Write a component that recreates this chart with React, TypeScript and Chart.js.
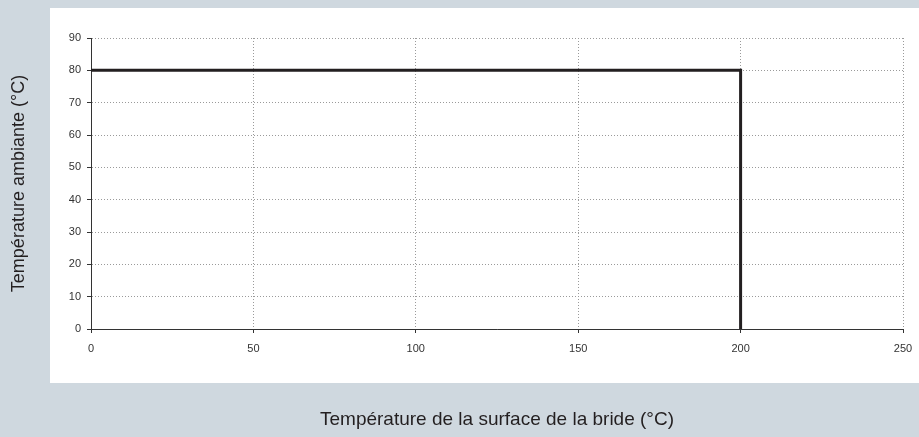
import React, { useEffect, useRef } from "react";
import { Chart, registerables } from "chart.js";

Chart.register(...registerables);

const xValues = [0, 200, 200];
const yValues = [80, 80, 0];
const xMin = 0;
const xMax = 250;
const xStep = 50;
const yMin = 0;
const yMax = 90;
const yStep = 10;
const xTitle = "Température de la surface de la bride (°C)";
const yTitle = "Température ambiante (°C)";

const FONT = "'Liberation Sans', Arial, Helvetica, sans-serif";

const panelPlugin = {
  id: "panel",
  beforeDraw(chart: any) {
    const ctx = chart.ctx;
    ctx.save();
    ctx.fillStyle = "#ffffff";
    ctx.fillRect(50, 8, chart.width - 50, 375);
    ctx.restore();
  },
};

export default function App() {
  const ref = useRef<HTMLCanvasElement | null>(null);

  useEffect(() => {
    if (!ref.current) return;
    const points = xValues.map((x, i) => ({ x, y: yValues[i] }));
    const chart = new Chart(ref.current, {
      type: "line",
      data: {
        datasets: [
          {
            data: points,
            borderColor: "#231f20",
            borderWidth: 3,
            pointRadius: 0,
            tension: 0,
            fill: false,
          },
        ],
      },
      options: {
        animation: false,
        responsive: false,
        maintainAspectRatio: false,
        layout: { padding: { left: 8, top: 38, right: 16, bottom: 6 } },
        plugins: {
          legend: { display: false },
          tooltip: { enabled: false },
        },
        scales: {
          x: {
            type: "linear",
            min: xMin,
            max: xMax,
            ticks: {
              stepSize: xStep,
              color: "#333333",
              padding: 9,
              font: { family: FONT, size: 11 },
            },
            grid: {
              color: "#9a9a9a",
              lineWidth: 1,
              tickColor: "#333333",
              tickLength: 4,
              tickBorderDash: [],
            },
            border: { display: true, color: "#333333", width: 1, dash: [1, 2] },
            title: {
              display: true,
              text: xTitle,
              color: "#231f20",
              padding: 0,
              font: { family: FONT, size: 19 },
            },
            afterFit: (s: any) => {
              s.height = 102;
              s.paddingLeft = 0;
              s.paddingRight = 0;
            },
          },
          y: {
            type: "linear",
            min: yMin,
            max: yMax,
            ticks: {
              stepSize: yStep,
              color: "#333333",
              padding: 6,
              font: { family: FONT, size: 11 },
            },
            grid: {
              color: "#9a9a9a",
              lineWidth: 1,
              tickColor: "#333333",
              tickLength: 4,
              tickBorderDash: [],
            },
            border: { display: true, color: "#333333", width: 1, dash: [1, 2] },
            title: {
              display: true,
              text: yTitle,
              color: "#231f20",
              padding: 0,
              font: { family: FONT, size: 18 },
            },
            afterFit: (s: any) => {
              s.width = 83;
              s.paddingTop = 0;
              s.paddingBottom = 0;
            },
          },
        },
      },
      plugins: [panelPlugin],
    } as any);
    return () => chart.destroy();
  }, []);

  return (
    <div
      style={{
        position: "fixed",
        left: 0,
        top: 0,
        width: 919,
        height: 437,
        background: "#cfd8df",
      }}
    >
      <canvas ref={ref} width={919} height={437} style={{ display: "block" }} />
    </div>
  );
}
